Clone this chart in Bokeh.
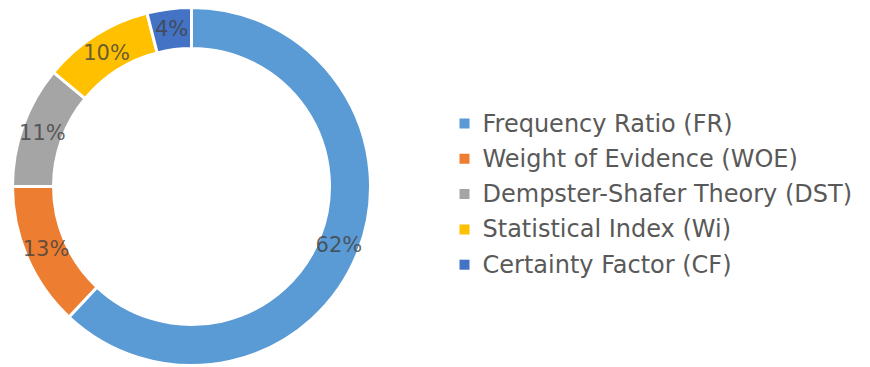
import math
from bokeh.plotting import figure
from bokeh.models import Range1d, ColumnDataSource
from bokeh.core.properties import value
from bokeh.embed import file_html
from bokeh.resources import INLINE

categories = ["Frequency Ratio (FR)", "Weight of Evidence (WOE)",
              "Dempster-Shafer Theory (DST)", "Statistical Index (Wi)",
              "Certainty Factor (CF)"]
shares = [62, 13, 11, 10, 4]
labels = ["62%", "13%", "11%", "10%", "4%"]
colors = ["#5B9BD5", "#ED7D31", "#A5A5A5", "#FFC000", "#4472C4"]

W, H = 870, 367
p = figure(width=W, height=H, output_backend="svg", toolbar_location=None,
           x_range=Range1d(0, W), y_range=Range1d(0, H), min_border=0)
p.axis.visible = False
p.grid.visible = False
p.outline_line_color = None
p.background_fill_color = "white"

cx, cy = 191, H - 186
r_out, r_in = 179, 138
total = sum(shares)
starts, ends, lx, ly = [], [], [], []
cum = 0
for s in shares:
    a0 = math.pi / 2 - 2 * math.pi * cum / total
    a1 = math.pi / 2 - 2 * math.pi * (cum + s) / total
    starts.append(a0)
    ends.append(a1)
    mid = (a0 + a1) / 2
    rm = (r_out + r_in) / 2
    lx.append(cx + rm * math.cos(mid))
    ly.append(cy + rm * math.sin(mid))
    cum += s

src = ColumnDataSource(dict(start=starts, end=ends, color=colors, lx=lx, ly=ly, label=labels))
p.annular_wedge(x=cx, y=cy, inner_radius=r_in, outer_radius=r_out,
                start_angle="start", end_angle="end", direction="clock",
                fill_color="color", line_color="white", line_width=3, source=src)
p.text(x="lx", y="ly", text="label", source=src, text_align="center",
       text_baseline="middle", text_font=value("DejaVu Sans"), text_font_size="21px",
       text_color="#404040", text_alpha=0.8)

# legend
leg_y = [H - (123 + 35.3 * i) for i in range(len(categories))]
p.scatter(x=[464] * len(categories), y=leg_y, marker="square", size=10,
          fill_color=colors, line_color=None)
p.text(x=[482] * len(categories), y=leg_y, text=categories, text_align="left",
       text_baseline="middle", text_font=value("DejaVu Sans"), text_font_size="24px",
       text_color="#595959")

open("out.html", "w").write(file_html(p, INLINE))
